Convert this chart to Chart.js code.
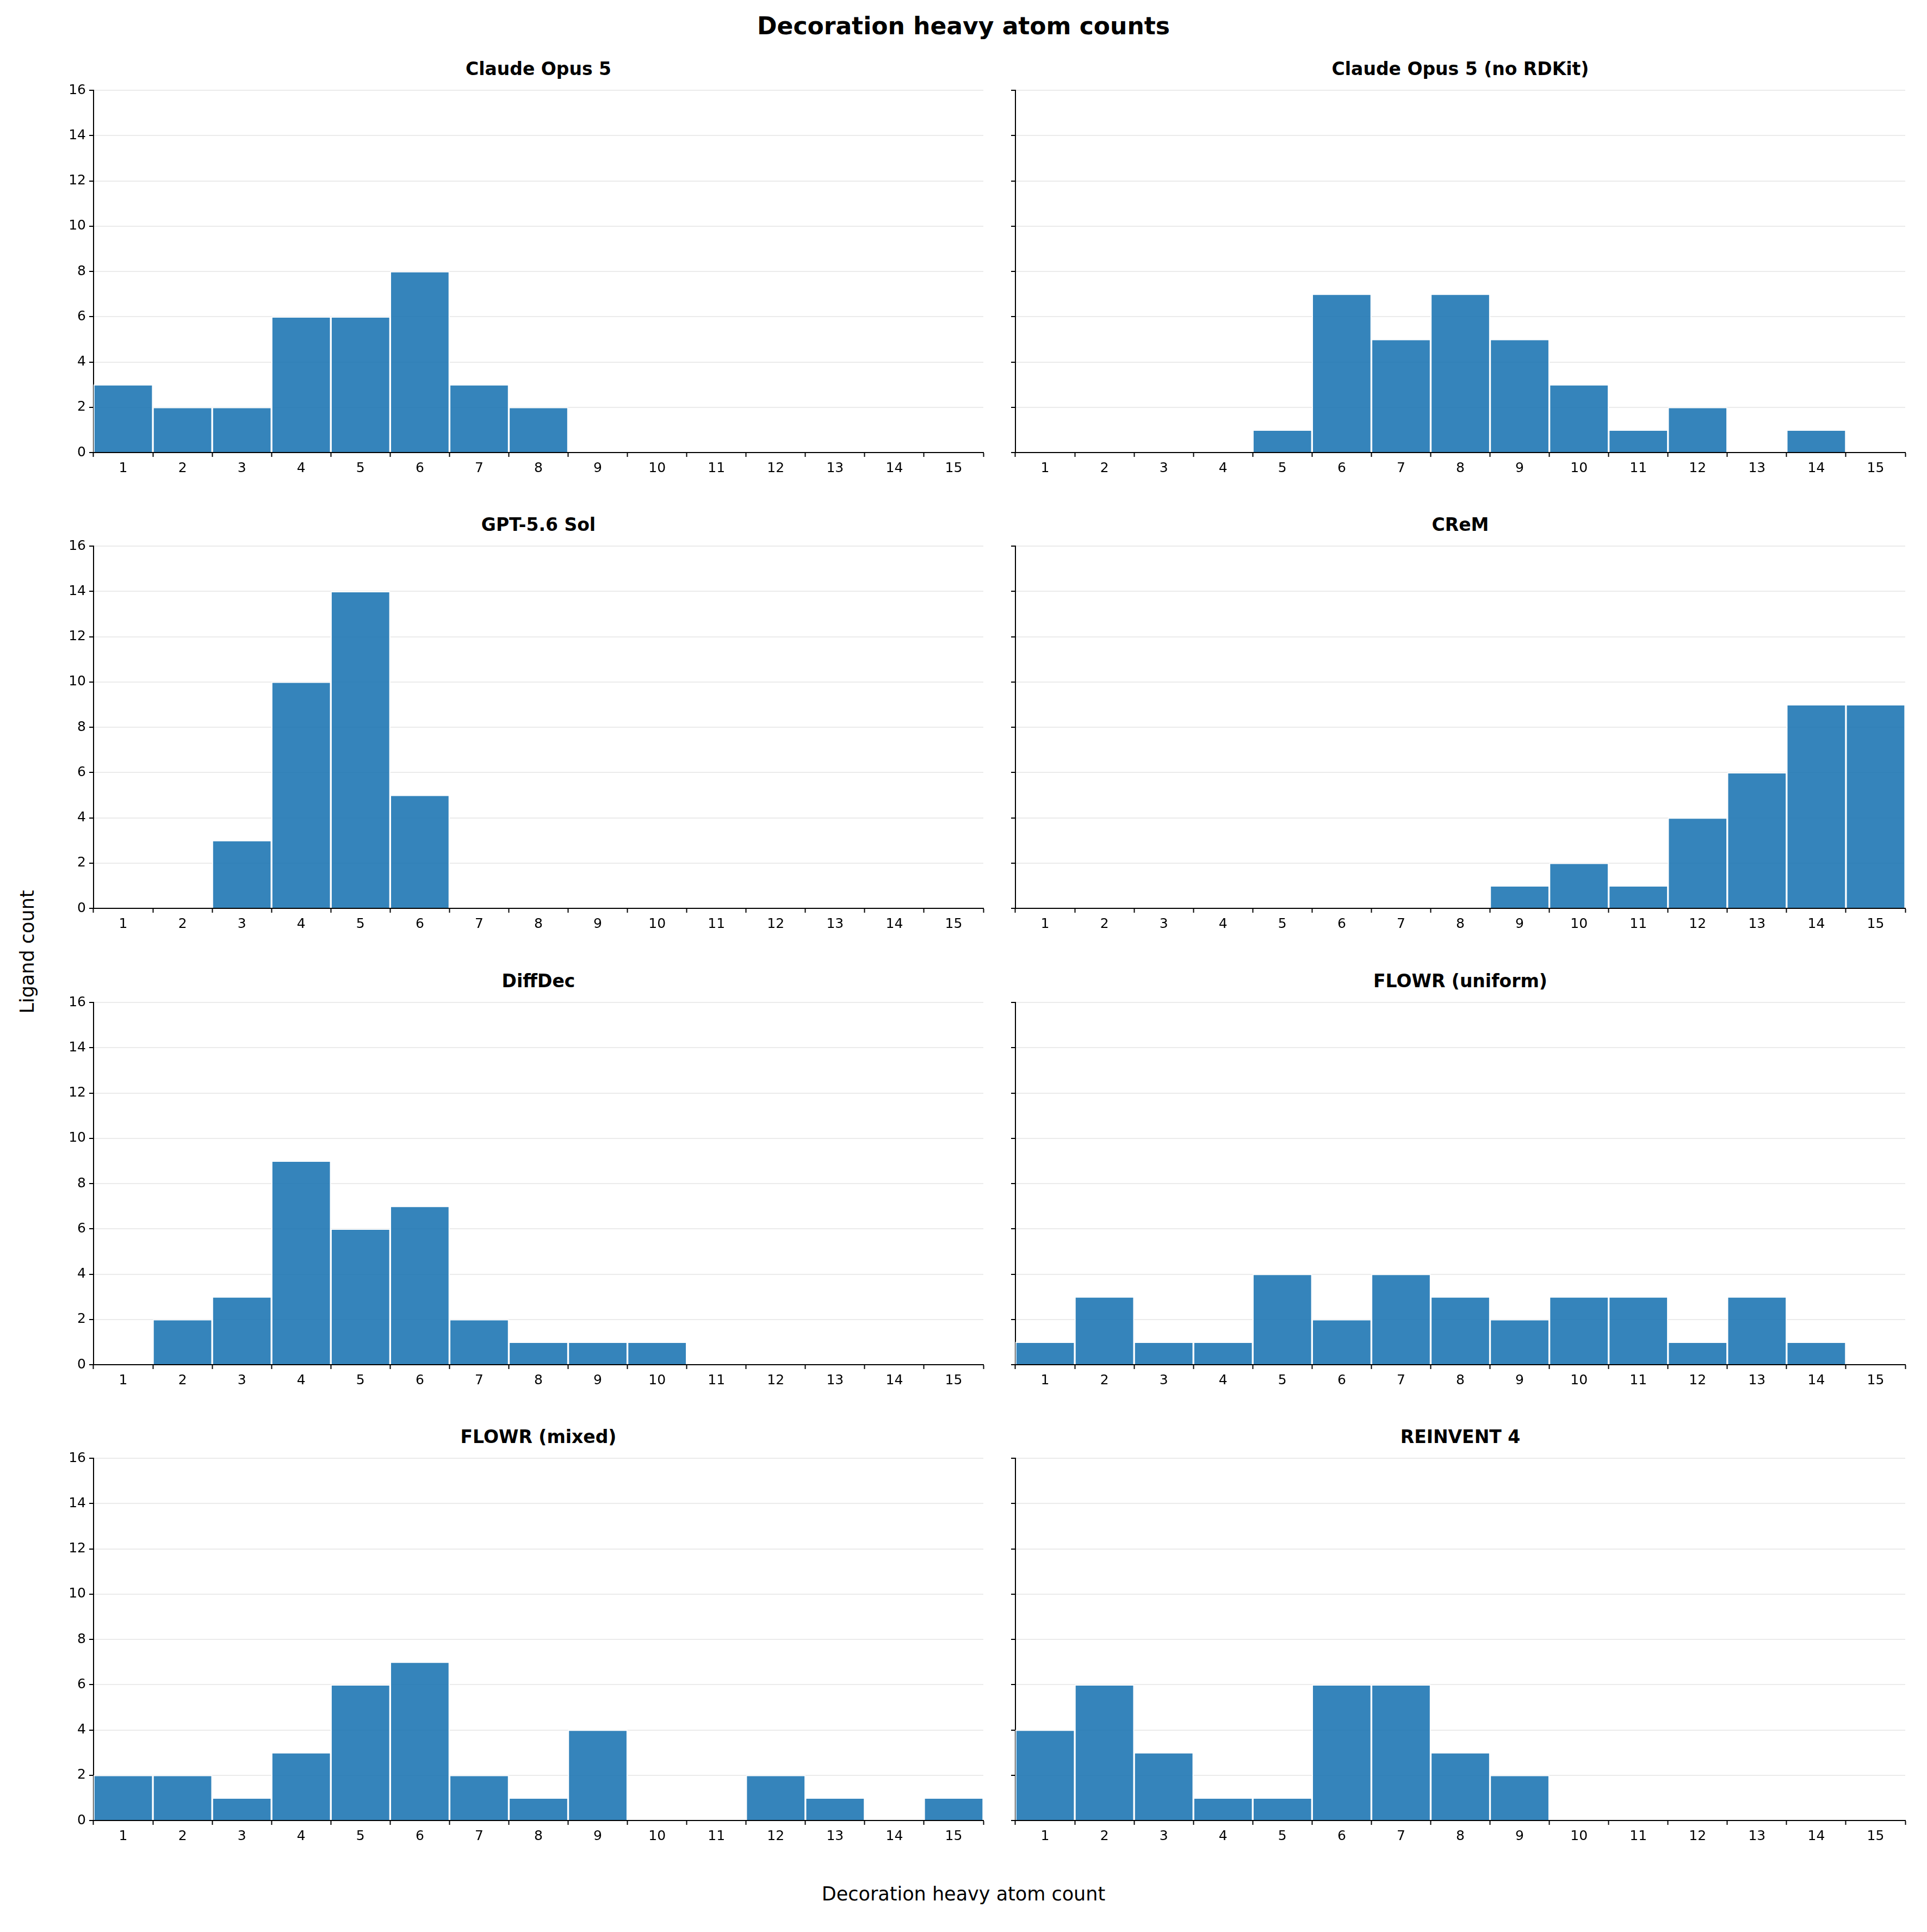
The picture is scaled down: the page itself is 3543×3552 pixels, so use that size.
<!DOCTYPE html>
<html><head><meta charset="utf-8">
<script src="https://cdn.jsdelivr.net/npm/chart.js@4"></script>
<style>
body{margin:0;width:3543px;height:3552px;background:#fff;position:relative;font-family:"DejaVu Sans",sans-serif;overflow:hidden}
.t{position:absolute;text-align:center;font-weight:bold;color:#000}
.c{position:absolute}
</style></head><body>
<script>
const categories=[1,2,3,4,5,6,7,8,9,10,11,12,13,14,15];
const yTicks=[0,2,4,6,8,10,12,14,16];
const titles=["Claude Opus 5","Claude Opus 5 (no RDKit)","GPT-5.6 Sol","CReM","DiffDec","FLOWR (uniform)","FLOWR (mixed)","REINVENT 4"];
const claudeOpus5=[3,2,2,6,6,8,3,2,0,0,0,0,0,0,0];
const claudeNoRdkit=[0,0,0,0,1,7,5,7,5,3,1,2,0,1,0];
const gptSol=[0,0,3,10,14,5,0,0,0,0,0,0,0,0,0];
const crem=[0,0,0,0,0,0,0,0,1,2,1,4,6,9,9];
const diffDec=[0,2,3,9,6,7,2,1,1,1,0,0,0,0,0];
const flowrUniform=[1,3,1,1,4,2,4,3,2,3,3,1,3,1,0];
const flowrMixed=[2,2,1,3,6,7,2,1,4,0,0,2,1,0,1];
const reinvent4=[4,6,3,1,1,6,6,3,2,0,0,0,0,0,0];
const series=[claudeOpus5,claudeNoRdkit,gptSol,crem,diffDec,flowrUniform,flowrMixed,reinvent4];

const F="DejaVu Sans";
function addText(txt,x,y,w,size,bold,rot){
  const d=document.createElement('div');d.className='t';d.textContent=txt;
  d.style.left=x+'px';d.style.top=y+'px';d.style.width=w+'px';d.style.fontSize=size+'px';
  d.style.fontWeight=bold?'bold':'normal';
  if(rot){d.style.transform='rotate(-90deg)';}
  document.body.appendChild(d);
}
addText("Decoration heavy atom counts",0,22,3543,44,true);
addText("Decoration heavy atom count",0,3462,3543,35,false);
addText("Ligand count",-250,1730,600,35,false,true);

const lefts=[172,1867], tops=[165,1003,1842,2680], pw=1636, ph=667;
const padL=90,padT=20,padB=60,padR=20;
series.forEach((data,i)=>{
  const col=i%2,row=Math.floor(i/2);
  const L=lefts[col],T=tops[row];
  addText(titles[i],L,T-58,pw,33,true);
  const div=document.createElement('div');div.className='c';
  div.style.left=(L-padL)+'px';div.style.top=(T-padT)+'px';
  div.style.width=(pw+padL+padR)+'px';div.style.height=(ph+padT+padB)+'px';
  const cv=document.createElement('canvas');div.appendChild(cv);document.body.appendChild(div);
  new Chart(cv,{type:'bar',
    data:{labels:categories,datasets:[{data:data,backgroundColor:'rgba(31,119,180,0.9)',borderColor:'#fff',borderWidth:2,categoryPercentage:1,barPercentage:1}]},
    options:{responsive:true,maintainAspectRatio:false,animation:false,devicePixelRatio:1,
      layout:{padding:{top:padT,right:padR,left:0,bottom:0}},
      plugins:{legend:{display:false},tooltip:{enabled:false}},
      scales:{
        x:{offset:true,grid:{display:true,drawOnChartArea:false,tickColor:'#000',tickLength:8,tickWidth:2},
          border:{color:'#000',width:2},
          ticks:{color:'#000',font:{family:F,size:25},padding:6},
          afterFit:s=>{s.height=padB;}},
        y:{min:0,max:16,afterBuildTicks:s=>{s.ticks=yTicks.map(v=>({value:v}));},
          grid:{color:'#ebebeb',lineWidth:2,tickColor:'#000',tickLength:8,tickWidth:2},
          border:{color:'#000',width:2},
          ticks:{color:'#000',font:{family:F,size:25},padding:6,callback:v=>col===0?v:''},
          afterFit:s=>{s.width=padL;}}
      }}});
});
</script>
</body></html>
